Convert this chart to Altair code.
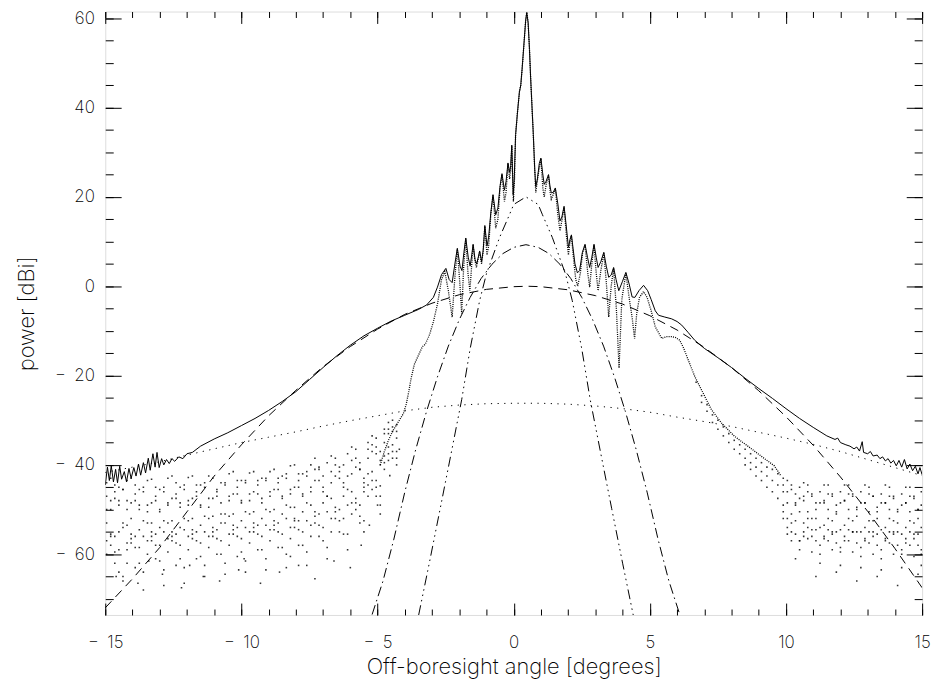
import altair as alt
import pandas as pd

# ---------------- data ----------------
# solid curve (envelope / measured pattern)
solid = [
    (-15.0, -44.5), (-14.92, -40.5), (-14.85, -43.5), (-14.78, -40.2), (-14.7, -43.8), (-14.62, -41.0),
    (-14.55, -44.0), (-14.47, -40.3), (-14.4, -43.2), (-14.3, -41.5), (-14.22, -43.8), (-14.13, -40.8),
    (-14.05, -43.0), (-13.95, -40.6), (-13.87, -42.5), (-13.78, -39.8), (-13.7, -42.3), (-13.6, -39.5),
    (-13.52, -41.8), (-13.42, -38.5), (-13.35, -41.2), (-13.25, -37.5), (-13.17, -40.5), (-13.1, -37.2),
    (-13.02, -40.6), (-12.93, -38.6), (-12.85, -40.0), (-12.75, -38.8), (-12.65, -39.7), (-12.55, -38.6),
    (-12.45, -39.2), (-12.3, -38.2), (-12.15, -38.6), (-12.0, -37.5), (-11.8, -37.2), (-11.5, -35.8),
    (-11.0, -34.2), (-10.5, -32.8), (-10.0, -31.2), (-9.5, -29.6), (-9.0, -27.8), (-8.5, -25.8),
    (-8.0, -23.6), (-7.5, -20.9), (-7.0, -18.2), (-6.5, -15.6), (-6.0, -13.2), (-5.5, -11.1),
    (-5.0, -9.4), (-4.5, -7.8), (-4.0, -6.5), (-3.5, -5.2), (-3.2, -4.2), (-2.95, -2.5), (-2.8, -0.2),
    (-2.65, 2.6), (-2.49, 4.0), (-2.37, 1.5), (-2.26, 0.8), (-2.16, 5.0), (-2.07, 8.5), (-1.97, 4.5),
    (-1.9, 3.5), (-1.83, 7.5), (-1.76, 10.8), (-1.67, 6.5), (-1.6, 4.5), (-1.54, 7.0), (-1.49, 9.4),
    (-1.42, 6.0), (-1.36, 5.0), (-1.3, 6.5), (-1.25, 7.9), (-1.18, 5.5), (-1.12, 8.0), (-1.06, 13.6),
    (-0.98, 9.0), (-0.92, 11.0), (-0.84, 16.5), (-0.76, 20.5), (-0.66, 16.0), (-0.58, 17.5), (-0.5, 22.5),
    (-0.43, 25.2), (-0.34, 21.5), (-0.28, 23.5), (-0.21, 27.6), (-0.15, 25.5), (-0.11, 27.0), (-0.07, 31.6),
    (-0.02, 20.5), (0.02, 24.0), (0.07, 33.9), (0.14, 39.0), (0.21, 43.5), (0.26, 45.0), (0.31, 48.7),
    (0.38, 54.5), (0.44, 59.5), (0.48, 61.3), (0.53, 59.0), (0.58, 53.0), (0.62, 47.0), (0.67, 40.5),
    (0.72, 34.0), (0.77, 26.5), (0.81, 22.3), (0.87, 24.0), (0.94, 27.5), (1.0, 28.7), (1.06, 25.5),
    (1.12, 22.8), (1.19, 23.5), (1.28, 25.0), (1.33, 22.5), (1.38, 20.9), (1.45, 21.0), (1.53, 22.0),
    (1.62, 18.5), (1.7, 14.6), (1.77, 15.5), (1.85, 17.9), (1.93, 13.5), (2.01, 8.7), (2.07, 10.5),
    (2.12, 11.5), (2.18, 8.5), (2.25, 5.0), (2.34, 3.0), (2.42, 3.5), (2.52, 7.5), (2.62, 9.4),
    (2.71, 6.5), (2.79, 4.2), (2.87, 6.5), (2.95, 9.4), (3.03, 6.5), (3.1, 4.2), (3.2, 5.5), (3.31, 7.6),
    (3.4, 4.5), (3.49, 2.0), (3.58, 2.5), (3.67, 4.2), (3.76, 1.5), (3.86, -1.0), (3.99, 1.0),
    (4.12, 3.1), (4.24, 0.5), (4.35, -2.4), (4.45, -2.5), (4.6, -1.0), (4.77, 0.2), (4.92, -1.0),
    (5.05, -3.0), (5.2, -5.5), (5.32, -6.5), (5.55, -6.9), (5.8, -7.3), (6.0, -7.9), (6.17, -8.7),
    (6.4, -10.3), (6.65, -12.1), (7.0, -13.9), (7.5, -16.0), (8.0, -18.2), (8.5, -20.6), (9.0, -22.9),
    (9.5, -25.1), (10.0, -27.4), (10.5, -29.6), (11.0, -31.6), (11.5, -33.5), (11.8, -34.3),
    (11.9, -34.0), (12.0, -35.0), (12.2, -35.5), (12.35, -35.8), (12.5, -36.4), (12.6, -36.0),
    (12.7, -36.9), (12.8, -34.8), (12.85, -37.2), (13.0, -37.5), (13.1, -37.0), (13.2, -38.0),
    (13.35, -37.8), (13.45, -38.6), (13.55, -38.2), (13.65, -39.1), (13.75, -38.6), (13.85, -39.6),
    (13.95, -39.0), (14.05, -40.2), (14.15, -39.0), (14.25, -40.5), (14.35, -38.8), (14.45, -40.9),
    (14.55, -39.8), (14.65, -41.3), (14.75, -40.3), (14.85, -42.0), (14.92, -40.6), (15.0, -42.2),
]

# dotted measured pattern (continuous part)
pattern = [
    (-4.9, -40.0), (-4.75, -37.0), (-4.6, -34.5), (-4.45, -32.5), (-4.3, -31.0), (-4.15, -29.5),
    (-4.05, -28.5), (-3.95, -26.5), (-3.85, -23.5), (-3.78, -21.0), (-3.65, -17.5), (-3.5, -15.5),
    (-3.35, -13.5), (-3.25, -13.0), (-3.1, -11.0), (-2.95, -8.0), (-2.8, -4.0), (-2.65, 1.5),
    (-2.53, 3.3), (-2.4, -1.0), (-2.26, -6.9), (-2.16, 2.0), (-2.07, 8.3), (-1.97, 0.0), (-1.91, -6.1),
    (-1.84, 4.0), (-1.76, 10.6), (-1.68, 3.0), (-1.61, -1.0), (-1.55, 4.0), (-1.49, 9.2), (-1.43, 6.0),
    (-1.37, 4.2), (-1.31, 6.0), (-1.25, 7.7), (-1.18, 5.0), (-1.12, 8.0), (-1.06, 13.4), (-0.98, 7.0),
    (-0.92, 9.0), (-0.84, 16.0), (-0.76, 20.3), (-0.66, 13.0), (-0.58, 15.0), (-0.5, 22.0),
    (-0.43, 25.0), (-0.34, 19.0), (-0.28, 21.0), (-0.21, 27.4), (-0.15, 24.0), (-0.11, 26.0),
    (-0.07, 31.4), (-0.01, 19.0), (0.03, 24.0), (0.07, 33.9), (0.14, 39.0), (0.21, 43.5), (0.26, 45.0),
    (0.31, 48.7), (0.38, 54.5), (0.44, 59.5), (0.48, 61.3), (0.53, 59.0), (0.58, 53.0), (0.62, 47.0),
    (0.67, 40.5), (0.72, 34.0), (0.77, 26.5), (0.81, 21.0), (0.9, 25.0), (1.0, 28.5), (1.07, 22.0),
    (1.12, 20.0), (1.2, 23.0), (1.28, 24.8), (1.34, 21.0), (1.38, 19.5), (1.45, 20.5), (1.53, 21.8),
    (1.62, 16.0), (1.7, 12.4), (1.78, 15.0), (1.85, 17.7), (1.94, 11.0), (2.01, 7.0), (2.07, 10.0),
    (2.12, 11.3), (2.2, 6.0), (2.28, 1.5), (2.35, 0.0), (2.45, 3.0), (2.53, 7.5), (2.62, 9.2),
    (2.72, 3.0), (2.79, -0.2), (2.87, 5.0), (2.95, 9.2), (3.03, 3.0), (3.1, -1.0), (3.2, 3.5),
    (3.31, 7.4), (3.4, 1.0), (3.49, -6.9), (3.58, 0.0), (3.67, 4.0), (3.77, -5.0), (3.87, -18.3),
    (3.97, -3.0), (4.12, 2.9), (4.25, -3.0), (4.35, -7.0), (4.44, -11.7), (4.52, -6.0), (4.62, -2.5),
    (4.77, -1.2), (4.9, -2.5), (5.05, -5.5), (5.2, -9.1), (5.44, -11.7), (5.6, -11.3), (5.8, -11.3),
    (5.95, -11.5), (6.1, -12.1), (6.25, -14.0), (6.41, -16.5), (6.65, -20.2), (7.02, -24.7),
    (7.26, -27.6), (7.63, -30.6), (8.11, -33.6), (8.6, -35.8), (9.08, -38.0), (9.57, -40.2),
    (9.81, -42.4),
]

# far-sidelobe samples, left side: sample angles and six sampled cuts
scatter_left_x = [
    -14.95, -14.8, -14.65, -14.5, -14.35, -14.2, -14.05, -13.9, -13.75, -13.6, -13.45, -13.3, -13.15, -13.0,
    -12.85, -12.7, -12.55, -12.4, -12.25, -12.1, -11.95, -11.8, -11.65, -11.5, -11.35, -11.2, -11.05, -10.9,
    -10.75, -10.6, -10.45, -10.3, -10.15, -10.0, -9.85, -9.7, -9.55, -9.4, -9.25, -9.1, -8.95,
    -8.8, -8.65, -8.5, -8.35, -8.2, -8.05, -7.9, -7.75, -7.6, -7.45,
    -7.3, -7.15, -7.0, -6.85, -6.7, -6.55, -6.4,
    -6.25, -6.1, -5.95, -5.8, -5.65, -5.5,
    -5.35, -5.2, -5.05, -4.9,
    -4.75, -4.6, -4.45, -4.3,
]
scatter_left_a = [
    -44, -43, -44.5, -48, -45.5, -43.5, -43, -44.5, -49, -45, -43.5, -43.2, -45, -50,
    -45, -43, -42.5, -44, -48.5, -44.5, -42.8, -42.5, -44.5, -49.5, -44, -42.5, -43, -46,
    -51, -44, -42, -41.5, -43.5, -48, -43.5, -41.8, -41.5, -43.5, -47.5, -43, -41.5,
    -41, -43, -47, -42, -40.2, -40, -42, -46.5, -41.5, -40,
    -38.5, -41, -45, -39.5, -38, -38.5, -41.5,
    -44, -37.5, -36, -36.5, -39.5, -43,
    -35, -33.5, -34, -37,
    -32, -30.5, -30, -31,
]
scatter_left_e = [
    -47, -50, -46, -45, -45.5, -48, -52, -46.5, -45.5, -46, -49, -53, -47, -45.5,
    -46, -48.5, -52.5, -46.5, -45, -45.5, -48, -52, -46, -44.5, -45, -47.5, -51.5, -45.5,
    -44, -44.5, -47, -51, -45, -43.5, -44, -46.5, -50.5, -44.5, -43, -43.5, -46,
    -50, -44, -42.5, -43, -45.5, -49.5, -43.5, -42, -42.5, -45,
    -41, -40.5, -42.5, -47, -41.5, -40, -40.5,
    -40, -42.5, -39, -38.5, -41, -45,
    -36.5, -35.5, -36, -39,
    -33, -32, -31.5, -32.5,
]
scatter_left_b = [
    -50, -48, -47.5, -49, -54, -50, -48.5, -48, -50, -56, -50.5, -48.5, -48, -50.5,
    -55, -49, -47.5, -47.5, -49.5, -54.5, -49, -47.5, -47, -49, -55, -49.5, -47.5, -47,
    -48.5, -53, -48, -46.5, -46.5, -48.5, -54, -48, -46, -46.5, -48.5, -53.5, -47,
    -45.5, -45.5, -47.5, -52, -46.5, -45, -45, -47, -52.5, -46,
    -43.5, -43.5, -46, -50.5, -44, -42.5, -43,
    -45, -49, -42, -40.5, -41, -44,
    -38.5, -37, -37.5, -40,
    -35, -33, -32.5, -34,
]
scatter_left_c = [
    -53, -56, -62, -55, -53, -53.5, -56.5, -63, -54.5, -52.5, -53, -56, -61, -54,
    -52.5, -53, -56, -62.5, -54, -52, -52.5, -55.5, -61, -53.5, -51.5, -52, -55, -60,
    -53, -51, -51.5, -54.5, -60.5, -52.5, -50.5, -51, -54, -59, -52, -50, -50.5,
    -53.5, -58.5, -51, -49, -49.5, -52.5, -58, -50.5, -48.5, -49,
    -51.5, -56, -48.5, -47, -47.5, -50.5, -55,
    -47, -45.5, -46, -48.5, -53, -46,
    -42, -41.5, -43.5, -47,
    -38, -36, -35.5, -37,
]
scatter_left_f = [
    -57, -55.5, -56, -59, -65, -57.5, -55.5, -56, -58.5, -64, -57, -55, -55.5, -58,
    -63.5, -56.5, -55, -55.5, -58, -63, -56, -54.5, -55, -57.5, -62.5, -56, -54, -54.5,
    -57, -62, -55.5, -53.5, -54, -56.5, -61.5, -55, -53, -53.5, -56, -61, -54.5,
    -52.5, -53, -55.5, -60, -54, -52, -52.5, -55, -59.5, -53.5,
    -50.5, -51, -54, -58.5, -52, -49.5, -50,
    -52, -55.5, -48.5, -47.5, -49, -52.5,
    -44.5, -43.5, -45, -49,
    -39.5, -37.5, -37, -38.5,
]
scatter_left_d = [
    -60, -58, -59.5, -64, -66, -59, -57.5, -58.5, -62, -68, -60, -57, -58, -61.5,
    -67, -59.5, -57, -57.5, -61, -66.5, -59, -56.5, -57, -60.5, -65, -58.5, -56, -56.5,
    -60, -64.5, -58, -55.5, -56, -59.5, -64, -57.5, -55, -55.5, -59, -63.5, -57,
    -54.5, -55, -58.5, -63, -56.5, -54, -54.5, -58, -62.5, -56,
    -53, -53.5, -57, -61, -55, -52, -52.5,
    -55.5, -59, -51, -50, -51.5, -55,
    -47, -45.5, -47, -51,
    -41, -39, -38.5, -40,
]
scatter_left_deep = [
    (-14.6, -65), (-13.8, -66.5), (-12.9, -64.5), (-12.2, -67.5), (-11.4, -65), (-10.8, -66),
    (-10.1, -63.5), (-9.3, -66.5), (-8.6, -64), (-7.9, -62.5), (-7.3, -65.5), (-6.6, -61.5),
    (-6.0, -63), (-14.2, -62), (-13.4, -61.5), (-11.9, -62.5), (-9.9, -61), (-8.2, -60.5),
    (-5.6, -58), (-5.3, -53.5), (-5.0, -49), (-4.9, -44.7), (-4.55, -42.4), (-4.2, -36.5),
]

# far-sidelobe samples, right side
scatter_right_x = [
    9.9, 10.05, 10.2, 10.35, 10.5, 10.65, 10.8, 10.95, 11.1, 11.25, 11.4, 11.55, 11.7, 11.85, 12.0,
    12.15, 12.3, 12.45, 12.6, 12.75, 12.9, 13.05, 13.2, 13.35, 13.5, 13.65, 13.8, 13.95, 14.1, 14.25,
    14.4, 14.55, 14.7, 14.85, 14.97,
]
scatter_right_a = [
    -43, -43.5, -45.5, -49, -45, -44, -44.5, -47, -52, -46, -44.5, -44.5, -46.5, -51, -46,
    -44.5, -44.5, -46.5, -51.5, -46, -44.5, -45, -47, -52, -46.5, -44.5, -45, -47.5, -53, -46.5,
    -45, -45, -47, -52, -46,
]
scatter_right_e = [
    -44.5, -46, -44.5, -46.5, -50.5, -47, -46, -46.5, -48.5, -54, -48, -46.5, -47, -49, -54.5,
    -48, -46.5, -47, -49.5, -55, -48.5, -46.5, -47, -49.5, -54.5, -48.5, -47, -47, -50, -55.5,
    -48.5, -47, -47.5, -50, -54,
]
scatter_right_b = [
    -46, -48.5, -53, -48.5, -47.5, -48, -50.5, -56, -50, -48.5, -48.5, -50, -55.5, -50.5, -48.5,
    -48, -50, -55, -50, -48.5, -48.5, -50.5, -56, -50.5, -48.5, -48.5, -50, -55, -50.5, -49,
    -48.5, -50.5, -56.5, -50, -49,
]
scatter_right_c = [
    -49, -52, -51, -52.5, -57, -53, -52, -52, -54.5, -60, -53.5, -52, -52.5, -55, -59.5,
    -53.5, -52, -52.5, -55, -60.5, -54, -52.5, -52.5, -55.5, -61, -54, -52, -52.5, -55, -60,
    -54, -52.5, -53, -55.5, -60,
]
scatter_right_f = [
    -50.5, -54, -55, -55.5, -59, -55, -54, -54.5, -57, -62, -56, -54.5, -55, -57.5, -62.5,
    -56, -54.5, -55, -57.5, -63, -56.5, -55, -55, -58, -63.5, -56.5, -55, -55.5, -58, -63,
    -56.5, -55, -55.5, -58, -62.5,
]
scatter_right_d = [
    -52, -55.5, -57, -61, -57, -56, -56.5, -59.5, -65, -58, -56.5, -57, -59, -64, -58.5,
    -57, -57, -59.5, -66, -58.5, -57, -57.5, -60, -65, -59, -57, -57.5, -60, -67, -59,
    -57.5, -58, -60.5, -64.5, -59,
]
# widened part of the falling pattern on the right shoulder
scatter_band = [
    (6.7, -21.5), (6.9, -24.5), (6.9, -26), (7.1, -26.5), (7.1, -28), (7.3, -28.8), (7.3, -30.5),
    (7.5, -30), (7.5, -32), (7.7, -31.5), (7.7, -33.5), (7.9, -33), (7.9, -35), (8.1, -34.5),
    (8.1, -36.5), (8.3, -35.5), (8.3, -37.5), (8.5, -36.5), (8.5, -38.5), (8.5, -40), (8.7, -37.5),
    (8.7, -39.5), (8.7, -41), (8.9, -38.5), (8.9, -40.5), (8.9, -42.5), (9.1, -39.5), (9.1, -41.5),
    (9.1, -43.5), (9.3, -40.5), (9.3, -42.5), (9.3, -45), (9.5, -41), (9.5, -43.5), (9.5, -46),
    (9.7, -42), (9.7, -44.5), (9.7, -47.5),
]

# fitted model curves
dashed_curve = [
    (-15, -72.0), (-14, -65.5), (-13, -58.5), (-12, -50.5), (-11, -42.5), (-10, -35.5), (-9, -29.0),
    (-8, -23.3), (-7, -18.0), (-6, -13.5), (-5, -9.6), (-4, -6.3), (-3, -3.8), (-2, -1.9), (-1, -0.7),
    (0, -0.1), (0.5, 0.0), (1, -0.1), (2, -0.8), (3, -2.1), (4, -4.0), (5, -6.6), (6, -9.8), (7, -13.7),
    (8, -18.2), (9, -23.4), (10, -29.2), (11, -35.6), (12, -42.7), (13, -50.4), (14, -58.7), (15, -67.5),
]
dotted_curve = [
    (-15, -41.7), (-14, -40.5), (-13, -39.3), (-12, -37.8), (-11, -36.4), (-10, -35.0), (-9, -33.8),
    (-8, -32.6), (-7, -31.3), (-6, -30.1), (-5, -29.0), (-4, -27.9), (-3, -27.1), (-2, -26.6),
    (-1, -26.3), (0, -26.2), (1, -26.2), (2, -26.4), (3, -26.8), (4, -27.4), (5, -28.2), (6, -29.3),
    (7, -30.3), (8, -31.4), (9, -32.7), (10, -34.0), (11, -35.4), (12, -37.0), (13, -38.8), (14, -40.6),
    (15, -42.4),
]
dashdot_curve = [
    (-5.2, -73.5), (-4.8, -66.0), (-4.4, -56.6), (-4.0, -46.1), (-3.6, -36.6), (-3.2, -28.0),
    (-2.8, -20.3), (-2.4, -13.4), (-2.0, -7.5), (-1.6, -2.5), (-1.2, 1.7), (-0.8, 4.9), (-0.4, 7.3),
    (0.0, 8.7), (0.45, 9.3), (0.9, 8.7), (1.3, 7.3), (1.7, 4.9), (2.1, 1.7), (2.5, -2.5), (2.9, -7.5),
    (3.3, -13.4), (3.7, -20.3), (4.1, -28.0), (4.5, -36.6), (4.9, -46.1), (5.3, -56.6), (5.7, -66.0),
    (6.1, -73.5),
]
dash3dot_curve = [
    (-3.49, -73.6), (-3.1, -62.0), (-2.7, -49.8), (-2.3, -37.5), (-1.91, -25.4), (-1.6, -14.0),
    (-1.25, -3.2), (-1.0, 2.8), (-0.52, 10.9), (-0.15, 16.1), (0.0, 18.3), (0.45, 20.0), (0.9, 18.3),
    (1.05, 16.1), (1.42, 10.9), (1.9, 2.8), (2.15, -3.2), (2.5, -14.0), (2.81, -25.4), (3.2, -37.5),
    (3.6, -49.8), (4.0, -62.0), (4.39, -73.6),
]

x_major = [-15, -10, -5, 0, 5, 10, 15]
x_minor = [-15, -14, -13, -12, -11, -10, -9, -8, -7, -6, -5, -4, -3, -2, -1, 0,
           1, 2, 3, 4, 5, 6, 7, 8, 9, 10, 11, 12, 13, 14, 15]
y_major = [-60, -40, -20, 0, 20, 40, 60]
y_minor = [-70, -65, -60, -55, -50, -45, -40, -35, -30, -25, -20, -15, -10, -5, 0,
           5, 10, 15, 20, 25, 30, 35, 40, 45, 50, 55, 60]

# ---------------- chart ----------------
def frame(pairs):
    return pd.DataFrame(pairs, columns=["x", "y"])

scatter_rows = []
for track in (scatter_left_a, scatter_left_e, scatter_left_b, scatter_left_c, scatter_left_f, scatter_left_d):
    scatter_rows += list(zip(scatter_left_x, track))
for track in (scatter_right_a, scatter_right_e, scatter_right_b, scatter_right_c, scatter_right_f, scatter_right_d):
    scatter_rows += list(zip(scatter_right_x, track))
scatter_rows += scatter_left_deep + scatter_band

XS = alt.Scale(domain=[-15, 15], nice=False, zero=False)
YS = alt.Scale(domain=[-73.6, 61.5], nice=False, zero=False)
FONT = "Inter, 'DejaVu Sans'"
WEIGHT = 200
MINUS_GAP = "replace(datum.label, '\u2212', '\u2212\u2002')"

common = dict(domain=False, grid=False, tickColor="black", tickWidth=1)

ax_x_main = alt.Axis(orient="bottom", values=x_major, tickSize=12, offset=-12, labelFontSize=17,
                     labelPadding=20, labelFlush=False, labelExpr=MINUS_GAP, labelFont=FONT,
                     labelFontWeight=WEIGHT, title="Off-boresight angle [degrees]", titleFontSize=22,
                     titleFont=FONT, titleFontWeight=WEIGHT, titlePadding=6, **common)
ax_x_minor = alt.Axis(orient="bottom", values=x_minor, tickSize=6, offset=-6, labels=False, title=None, **common)
ax_x_top = alt.Axis(orient="top", values=x_major, tickSize=12, offset=-12, labels=False, title=None, **common)
ax_x_top_minor = alt.Axis(orient="top", values=x_minor, tickSize=6, offset=-6, labels=False, title=None, **common)

ax_y_main = alt.Axis(orient="left", values=y_major, tickSize=16, offset=-16, labelFontSize=17,
                     labelPadding=11, labelFlush=8, labelFlushOffset=8, labelExpr=MINUS_GAP,
                     labelFont=FONT, labelFontWeight=WEIGHT, title="power [dBi]", titleFontSize=22,
                     titleFont=FONT, titleFontWeight=WEIGHT, titlePadding=16, **common)
ax_y_minor = alt.Axis(orient="left", values=y_minor, tickSize=8, offset=-8, labels=False, title=None, **common)
ax_y_right = alt.Axis(orient="right", values=y_major, tickSize=16, offset=-16, labels=False, title=None, **common)
ax_y_right_minor = alt.Axis(orient="right", values=y_minor, tickSize=8, offset=-8, labels=False, title=None, **common)


def enc(xa=None, ya=None):
    return dict(x=alt.X("x:Q", scale=XS, axis=xa), y=alt.Y("y:Q", scale=YS, axis=ya))


scatter = alt.Chart(frame(scatter_rows)).mark_square(size=2.5, color="black", opacity=0.8, clip=True).encode(**enc())
pattern_line = alt.Chart(frame(pattern)).mark_line(color="black", strokeWidth=1.3, strokeDash=[1, 1.2], clip=True).encode(**enc())
dotted_line = alt.Chart(frame(dotted_curve)).mark_line(color="black", strokeWidth=1, strokeDash=[1.2, 5.5], clip=True).encode(**enc(ax_x_minor, ax_y_minor))
dashed_line = alt.Chart(frame(dashed_curve)).mark_line(color="black", strokeWidth=1, strokeDash=[9, 6], clip=True).encode(**enc(ax_x_main, ax_y_main))
dashdot_line = alt.Chart(frame(dashdot_curve)).mark_line(color="black", strokeWidth=1, strokeDash=[10, 4, 1.5, 4], clip=True).encode(**enc(ax_x_top, ax_y_right))
dash3_line = alt.Chart(frame(dash3dot_curve)).mark_line(color="black", strokeWidth=1, strokeDash=[10, 4, 1.5, 4, 1.5, 4, 1.5, 4], clip=True).encode(**enc(ax_x_top_minor, ax_y_right_minor))
solid_line = alt.Chart(frame(solid)).mark_line(color="black", strokeWidth=1, clip=True).encode(**enc())

chart = (
    alt.layer(scatter, pattern_line, dotted_line, dashed_line, dashdot_line, dash3_line, solid_line)
    .resolve_axis(x="independent", y="independent")
    .properties(width=823, height=608, autosize=alt.AutoSizeParams(type="none"),
                padding={"left": 98, "top": 1, "right": 16, "bottom": 70})
    .configure_view(stroke="black", strokeWidth=1)
    .configure_axis(labelColor="black", titleColor="black")
    .configure(background="white")
)

chart.save("out.html", embed_options={"renderer": "svg", "actions": False})
